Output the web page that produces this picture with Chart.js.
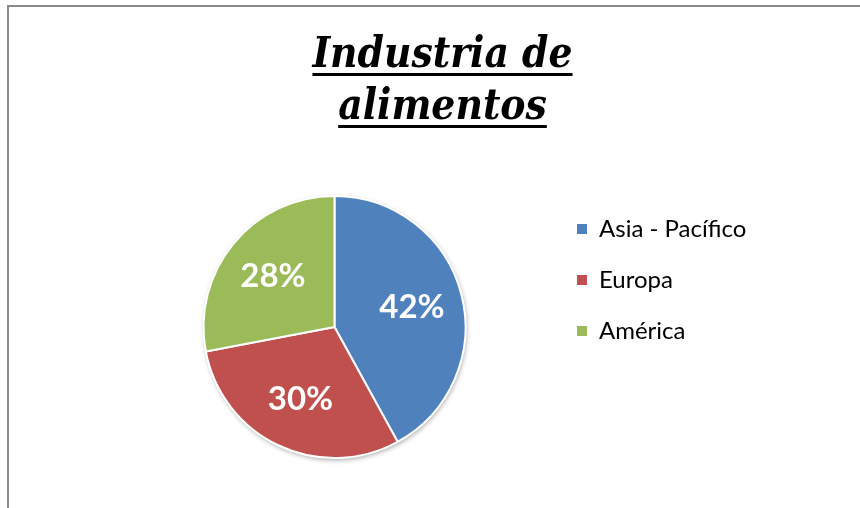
<!DOCTYPE html>
<html>
<head>
<meta charset="utf-8">
<script src="https://cdn.jsdelivr.net/npm/chart.js@4/dist/chart.umd.min.js"></script>
<style>
html,body{margin:0;padding:0;background:#fff;}
canvas{display:block;}
</style>
</head>
<body>
<canvas id="c" width="860" height="508"></canvas>
<script>
const titleLines = ['Industria de', 'alimentos'];
const categories = ['Asia - Pacífico', 'Europa', 'América'];
const values = [42, 30, 28];
const colors = ['#4F81BD', '#C0504D', '#9BBB59'];

const LEGEND_WIDTH = 216;

const frame = {
  id: 'frame',
  beforeDraw(chart) {
    const ctx = chart.ctx;
    ctx.save();
    ctx.fillStyle = '#fff';
    ctx.fillRect(0, 0, chart.width, chart.height);
    ctx.strokeStyle = '#8a8a8a';
    ctx.lineWidth = 2;
    ctx.strokeRect(8, 6, chart.width + 20, chart.height + 20);
    ctx.restore();
  }
};

const legendWidth = {
  id: 'legendWidth',
  beforeLayout(chart) {
    const lg = chart.legend;
    if (lg && !lg._patched) {
      const orig = lg.fit;
      lg.fit = function () { orig.call(this); this.width = LEGEND_WIDTH; };
      lg._patched = true;
    }
  }
};

const shadow = {
  id: 'shadow',
  beforeDatasetsDraw(chart) {
    const arc = chart.getDatasetMeta(0).data[0];
    if (!arc) return;
    const p = arc.getProps(['x', 'y', 'outerRadius'], true);
    const ctx = chart.ctx;
    ctx.save();
    ctx.shadowColor = 'rgba(0,0,0,0.35)';
    ctx.shadowBlur = 5;
    ctx.shadowOffsetX = 1;
    ctx.shadowOffsetY = 2;
    ctx.fillStyle = '#ffffff';
    ctx.beginPath();
    ctx.arc(p.x, p.y, p.outerRadius, 0, Math.PI * 2);
    ctx.fill();
    ctx.restore();
  }
};

const underline = {
  id: 'underline',
  afterDraw(chart) {
    const t = chart.titleBlock;
    const opts = chart.options.plugins.title;
    const ctx = chart.ctx;
    const font = Chart.helpers.toFont(opts.font);
    const pad = Chart.helpers.toPadding(opts.padding);
    ctx.save();
    ctx.font = font.string;
    ctx.fillStyle = '#000';
    const cx = (t.left + t.right) / 2;
    titleLines.forEach((line, i) => {
      const w = ctx.measureText(line).width;
      const midY = t.top + pad.top + font.lineHeight / 2 + i * font.lineHeight;
      ctx.fillRect(cx - w / 2, midY + 17, w, 3);
    });
    ctx.restore();
  }
};

const pctLabels = {
  id: 'pctLabels',
  afterDatasetsDraw(chart) {
    const ctx = chart.ctx;
    const meta = chart.getDatasetMeta(0);
    ctx.save();
    ctx.font = 'bold 33px Lato';
    ctx.fillStyle = '#fff';
    ctx.textAlign = 'center';
    ctx.textBaseline = 'middle';
    meta.data.forEach((arc, i) => {
      const p = arc.getProps(['x', 'y', 'startAngle', 'endAngle', 'outerRadius'], true);
      const mid = (p.startAngle + p.endAngle) / 2;
      const r = p.outerRadius * 0.61;
      ctx.fillText(values[i] + '%', p.x + Math.cos(mid) * r, p.y + Math.sin(mid) * r);
    });
    ctx.restore();
  }
};

new Chart(document.getElementById('c'), {
  type: 'pie',
  data: {
    labels: categories,
    datasets: [{
      data: values,
      backgroundColor: colors,
      borderColor: '#ffffff',
      borderWidth: 2,
      radius: 131
    }]
  },
  options: {
    responsive: false,
    devicePixelRatio: 1,
    animation: false,
    layout: { padding: { left: 119, right: 94, top: 0, bottom: 44 } },
    plugins: {
      tooltip: { enabled: false },
      title: {
        display: true,
        text: titleLines,
        color: '#000',
        font: { family: "'DejaVu Serif Condensed', 'DejaVu Serif', serif", size: 42, weight: 'bold', style: 'italic', lineHeight: 1.238 },
        padding: { top: 30, bottom: 56 }
      },
      legend: {
        position: 'right',
        align: 'start',
        fullSize: false,
        labels: {
          boxWidth: 10,
          boxHeight: 10,
          padding: 27,
          color: '#000',
          font: { family: 'Lato', size: 24 },
          generateLabels(chart) {
            const items = Chart.overrides.pie.plugins.legend.labels.generateLabels(chart);
            items.forEach(it => { it.lineWidth = 0; it.strokeStyle = 'rgba(0,0,0,0)'; });
            return items;
          }
        }
      }
    }
  },
  plugins: [frame, legendWidth, shadow, underline, pctLabels]
});
</script>
</body>
</html>
